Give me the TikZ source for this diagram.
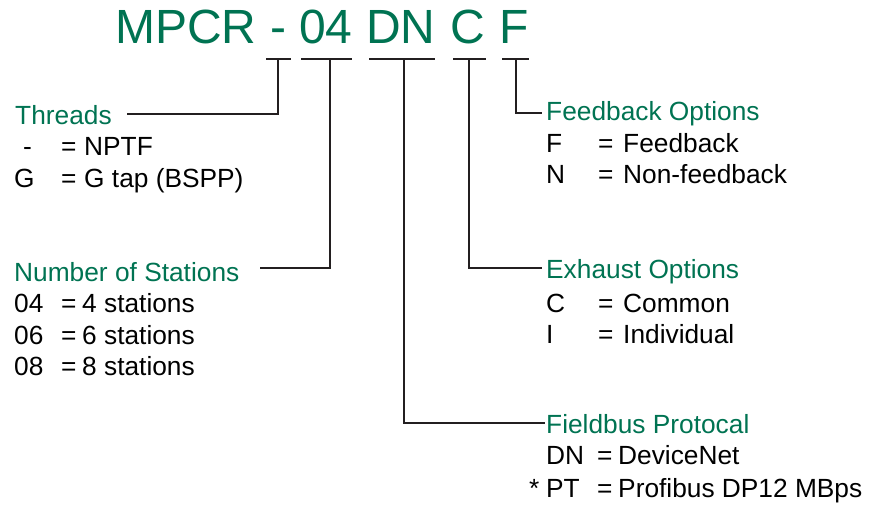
\documentclass[tikz,border=0pt]{standalone}
\usepackage{fontspec}
\setmainfont{Liberation Sans}
\definecolor{codegreen}{RGB}{0,115,82}
\definecolor{linegray}{RGB}{35,31,32}
\begin{document}
\begin{tikzpicture}[x=1pt,y=-1pt,
  every node/.style={inner sep=0pt,anchor=base west},
  title/.style={text=codegreen,font=\fontsize{48}{48}\selectfont},
  head/.style={text=codegreen,font=\fontsize{26.3}{26.3}\selectfont},
  item/.style={text=black,font=\fontsize{26.3}{26.3}\selectfont},
  conn/.style={draw=linegray,line width=2.8pt}]
\useasboundingbox (0,0) rectangle (875,504);
% title
\node[title] (tM) at (115,43) {MPCR};
\node[title] (tdash) at (270,43) {-};
\node[title] (t04) at (299,43) {04};
\node[title] (tDN) at (366,43) {DN};
\node[title] (tC) at (450,43) {C};
\node[title] (tF) at (499,43) {F};
% bracket coordinates
\coordinate (b1l) at (266,59); \coordinate (b1r) at (291,59); \coordinate (b1) at (278,59);
\coordinate (b2l) at (301,59); \coordinate (b2r) at (352,59); \coordinate (b2) at (330,59);
\coordinate (b3l) at (369,59); \coordinate (b3r) at (435,59); \coordinate (b3) at (404,59);
\coordinate (b4l) at (453,59); \coordinate (b4r) at (486,59); \coordinate (b4) at (469,59);
\coordinate (b5l) at (502,59); \coordinate (b5r) at (529,59); \coordinate (b5) at (516,59);
\coordinate (e1) at (127,114);
\coordinate (e2) at (260,268);
\coordinate (e3) at (545,423);
\coordinate (e4) at (542,268);
\coordinate (e5) at (542,113);
% left: Threads
\node[head] (thr) at (15,124) {Threads};
\node[item] (thk1) at (23,155) {-};
\node[item] (the1) at (61,155) {=};
\node[item] (thv1) at (84,155) {NPTF};
\node[item] (thk2) at (14,187) {G};
\node[item] (the2) at (61,187) {=};
\node[item] (thv2) at (84,187) {G tap (BSPP)};
% left: Stations
\node[head] (sta) at (14,281) {Number of Stations};
\node[item] (sk1) at (14,312) {04};
\node[item] (se1) at (61,312) {=};
\node[item] (sv1) at (82,312) {4 stations};
\node[item] (sk2) at (14,344) {06};
\node[item] (se2) at (61,344) {=};
\node[item] (sv2) at (82,344) {6 stations};
\node[item] (sk3) at (14,375) {08};
\node[item] (se3) at (61,375) {=};
\node[item] (sv3) at (82,375) {8 stations};
% right: Feedback
\node[head] (fb) at (546,120) {Feedback Options};
\node[item] (fk1) at (546,152) {F};
\node[item] (fe1) at (598,152) {=};
\node[item] (fv1) at (623,152) {Feedback};
\node[item] (fk2) at (546,183) {N};
\node[item] (fe2) at (598,183) {=};
\node[item] (fv2) at (623,183) {Non-feedback};
% right: Exhaust
\node[head] (ex) at (546,278) {Exhaust Options};
\node[item] (xk1) at (546,312) {C};
\node[item] (xe1) at (598,312) {=};
\node[item] (xv1) at (623,312) {Common};
\node[item] (xk2) at (546,343) {I};
\node[item] (xe2) at (598,343) {=};
\node[item] (xv2) at (623,343) {Individual};
% right: Fieldbus
\node[head] (fp) at (546,433) {Fieldbus Protocal};
\node[item] (pk1) at (546,464) {DN};
\node[item] (pe1) at (597,464) {=};
\node[item] (pv1) at (618,464) {DeviceNet};
\node[item] (pst) at (529,497) {*};
\node[item] (pk2) at (546,497) {PT};
\node[item] (pe2) at (597,497) {=};
\node[item] (pv2) at (618,497) {Profibus DP12 MBps};
% connectors
\draw[conn] (b1l) -- (b1r);
\draw[conn] (b2l) -- (b2r);
\draw[conn] (b3l) -- (b3r);
\draw[conn] (b4l) -- (b4r);
\draw[conn] (b5l) -- (b5r);
\draw[conn] (b1) |- (e1);
\draw[conn] (b2) |- (e2);
\draw[conn] (b3) |- (e3);
\draw[conn] (b4) |- (e4);
\draw[conn] (b5) |- (e5);
\end{tikzpicture}
\end{document}
